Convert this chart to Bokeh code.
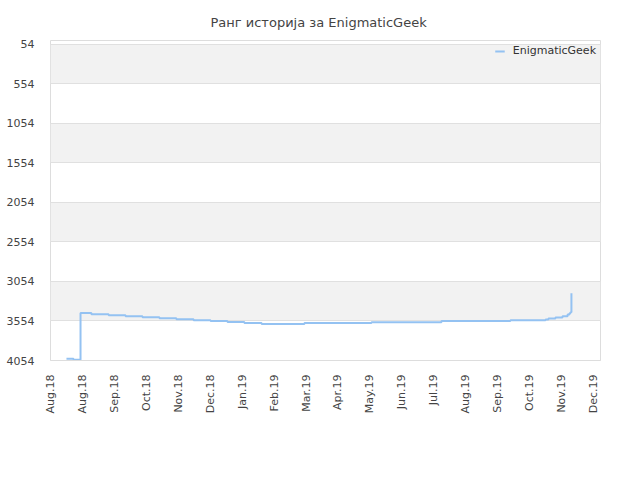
# rank history chart
from bokeh.plotting import figure
from bokeh.models import Range1d, FixedTicker, Legend, LegendItem
from bokeh.embed import file_html
from bokeh.resources import INLINE
from math import pi

# month labels on the x axis (one tick per position)
month_labels = ["Aug.18", "Aug.18", "Sep.18", "Oct.18", "Nov.18", "Dec.18",
                "Jan.19", "Feb.19", "Mar.19", "Apr.19", "May.19", "Jun.19",
                "Jul.19", "Aug.19", "Sep.19", "Oct.19", "Nov.19", "Dec.19"]

# rank history, x is measured in month ticks
hist_x = [0.50, 0.72, 0.94, 1.28, 1.82, 2.35, 2.88, 3.41, 3.94, 4.48,
          5.01, 5.54, 6.07, 6.61, 7.95, 10.05, 12.24, 14.40, 15.50,
          15.59, 15.81, 16.03, 16.19, 16.25, 16.28, 16.31]
hist_rank = [4031, 4044, 3453, 3469, 3482, 3494, 3507, 3520, 3532, 3545,
             3556, 3566, 3579, 3591, 3579, 3570, 3554, 3545, 3536,
             3523, 3511, 3494, 3473, 3456, 3443, 3204]

rank_ticks = [54, 554, 1054, 1554, 2054, 2554, 3054, 3554, 4054]

p = figure(width=632, height=472, output_backend="svg", toolbar_location=None,
           x_range=Range1d(0, 17.22), y_range=Range1d(4054, 7))
p.min_border_left = 50
p.min_border_right = 32
p.min_border_top = 40
p.min_border_bottom = 112

p.title.text = "Ранг историја за EnigmaticGeek"
p.title.align = "left"
p.title.offset = 160
p.title.standoff = 22
p.title.text_font = "DejaVu Sans"
p.title.text_font_size = "13px"
p.title.text_font_style = "normal"
p.title.text_color = "#444444"

p.background_fill_color = "white"
p.border_fill_color = "white"
p.outline_line_color = "#dddddd"

# y axis
p.yaxis.ticker = FixedTicker(ticks=rank_ticks)
p.yaxis.axis_line_color = None
p.yaxis.major_tick_line_color = None
p.yaxis.minor_tick_line_color = None
p.yaxis.major_label_text_font = "DejaVu Sans"
p.yaxis.major_label_text_font_size = "11px"
p.yaxis.major_label_text_color = "#444444"
p.yaxis.major_label_standoff = 10

# x axis
p.xaxis.ticker = FixedTicker(ticks=list(range(len(month_labels))))
p.xaxis.major_label_overrides = {i: lab for i, lab in enumerate(month_labels)}
p.xaxis.major_label_orientation = pi / 2
p.xaxis.axis_line_color = "#dddddd"
p.xaxis.major_tick_line_color = None
p.xaxis.minor_tick_line_color = None
p.xaxis.major_label_text_font = "DejaVu Sans"
p.xaxis.major_label_text_font_size = "11px"
p.xaxis.major_label_text_color = "#444444"
p.xaxis.major_label_standoff = 8

# grid and bands
p.xgrid.grid_line_color = None
p.ygrid.grid_line_color = "#e0e0e0"
p.ygrid.band_fill_color = "#f2f2f2"
p.ygrid.band_fill_alpha = 1.0

line = p.step(hist_x, hist_rank, mode="after", line_color="#94c2f2",
              line_width=2)

# legend kept inside the plot frame (annotations outside it get clipped)
legend = Legend(items=[LegendItem(label="EnigmaticGeek", renderers=[line])],
                location="top_right", border_line_color=None,
                background_fill_alpha=0, label_text_font="DejaVu Sans",
                label_text_font_size="11px", label_text_color="#333333",
                glyph_width=10, glyph_height=12, label_height=12,
                label_standoff=8, padding=2, spacing=0, margin=4)
p.add_layout(legend, "center")

open("out.html", "w").write(file_html(p, INLINE))
